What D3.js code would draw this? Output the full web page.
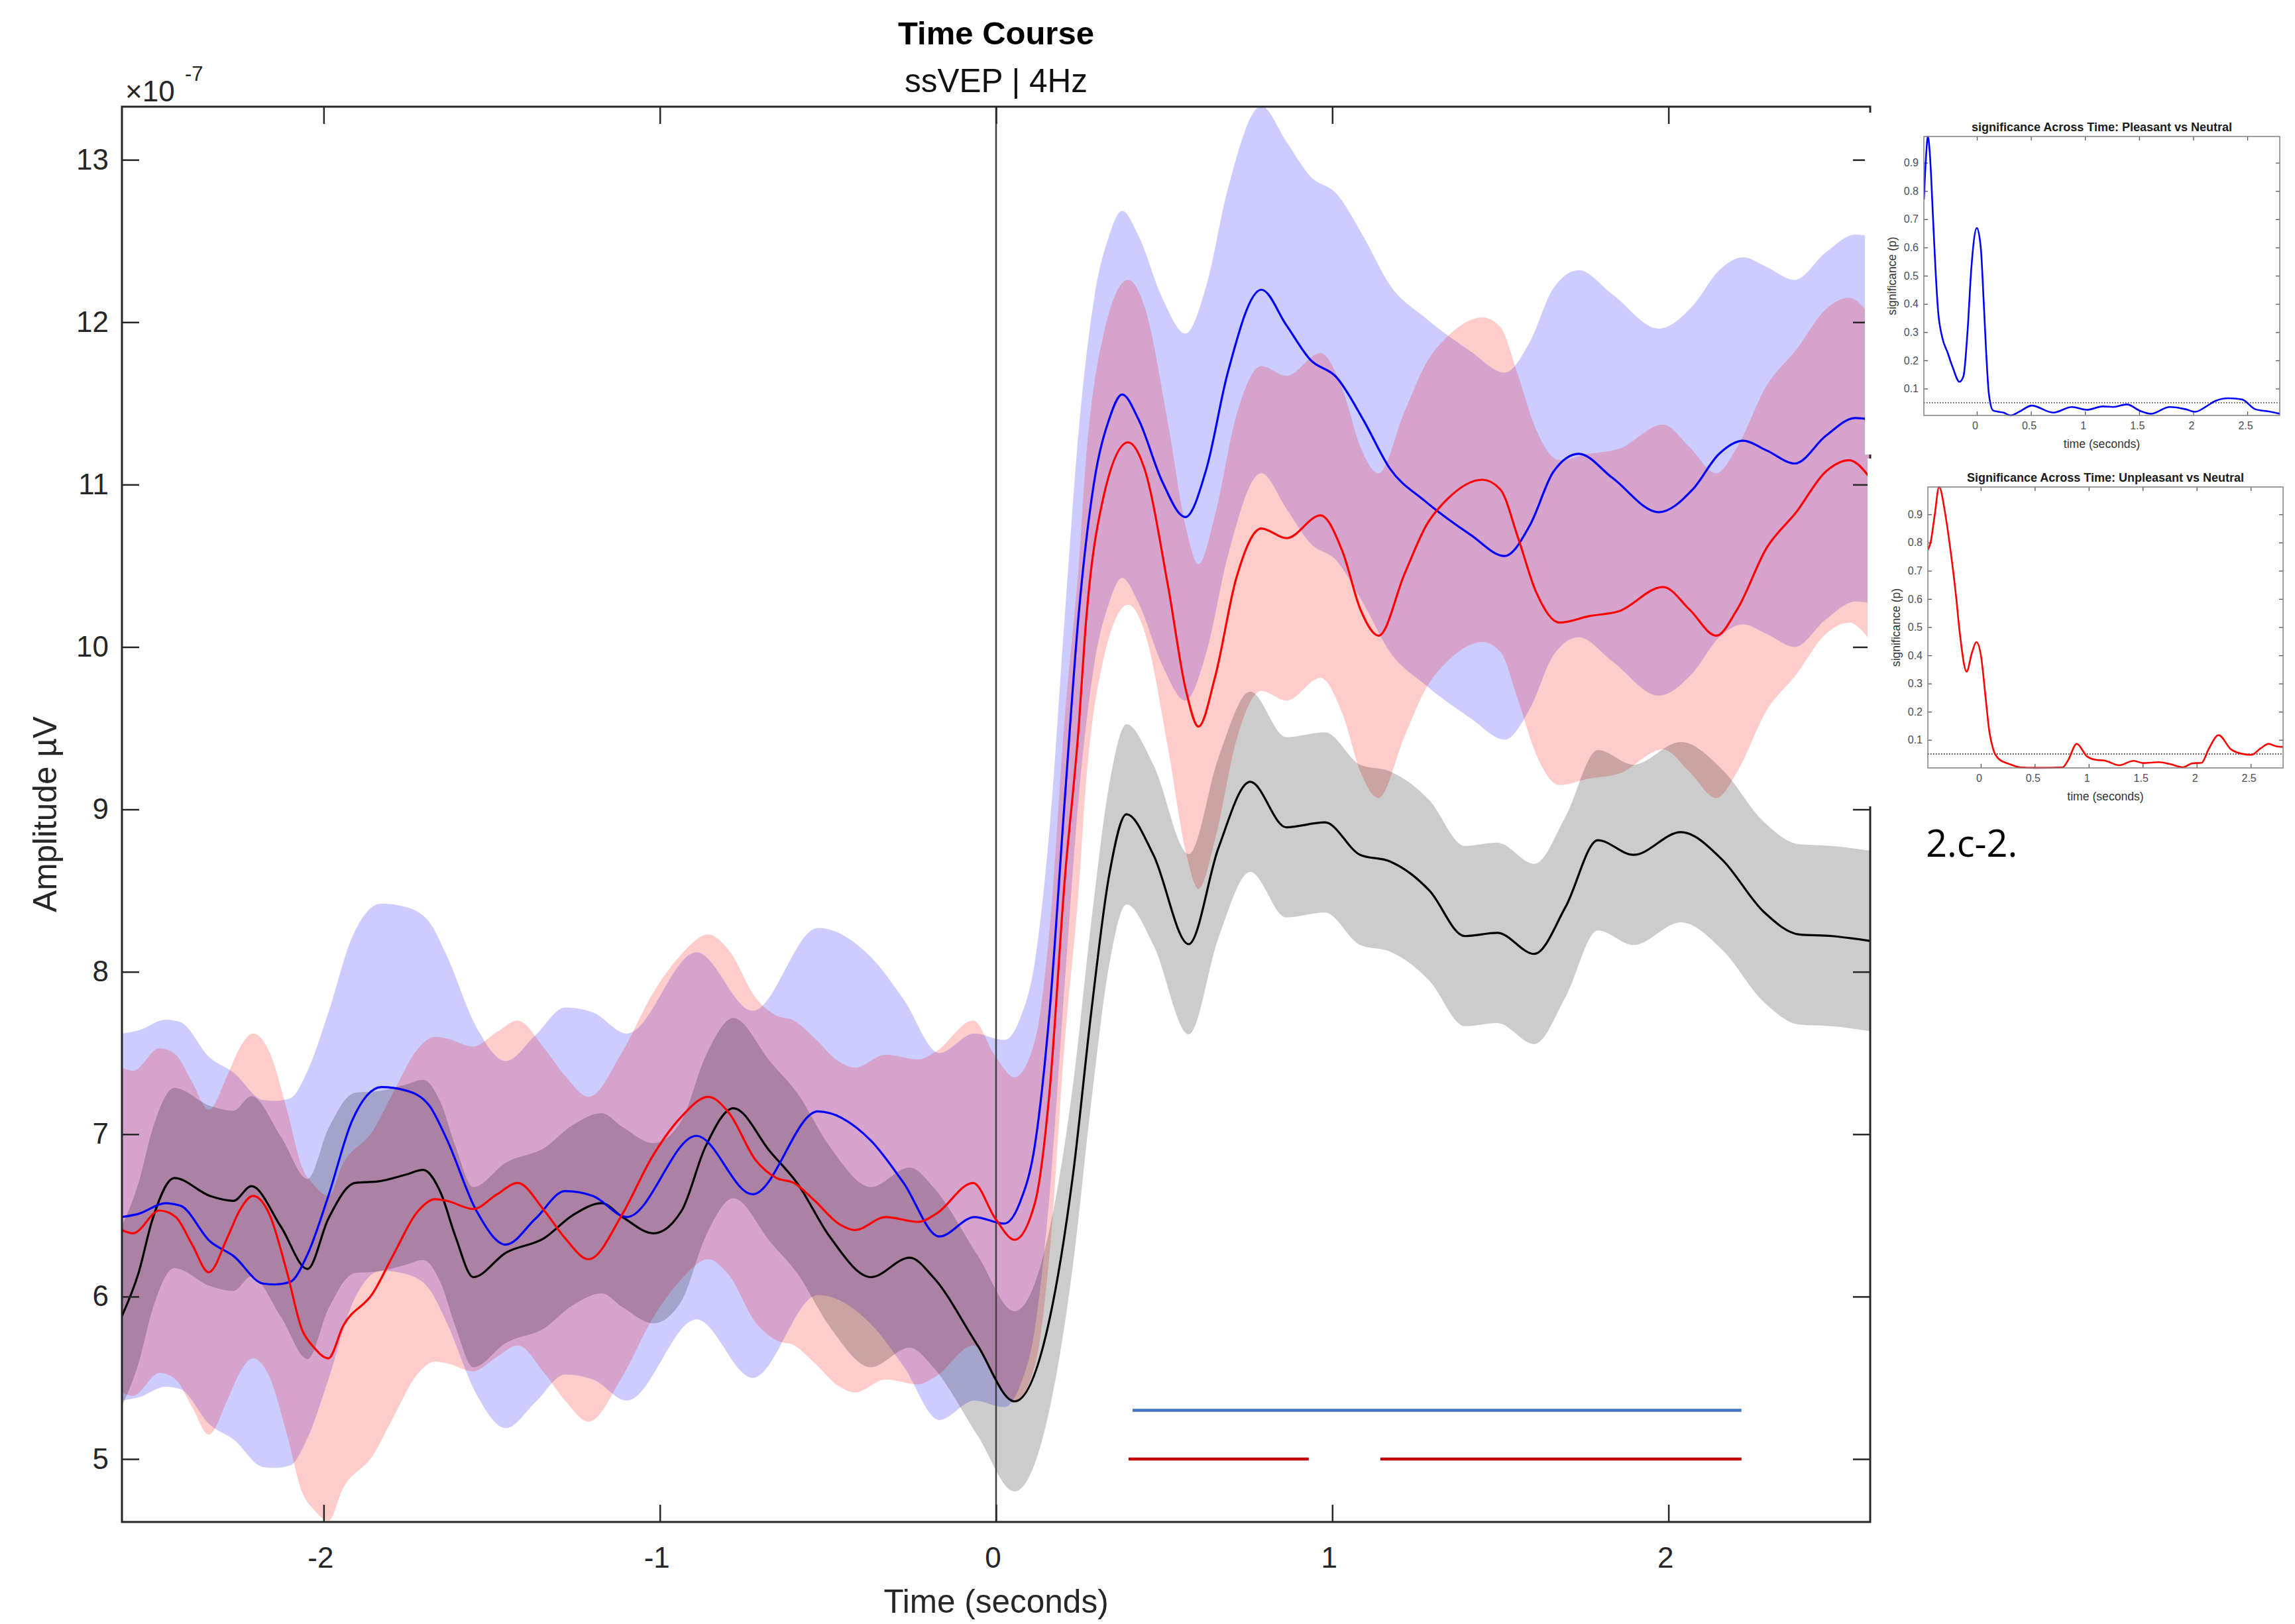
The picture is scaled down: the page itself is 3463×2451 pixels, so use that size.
<!DOCTYPE html>
<html>
<head>
<meta charset="utf-8">
<script src="https://cdn.jsdelivr.net/npm/d3@7"></script>
<style>
  html, body { margin: 0; padding: 0; background: #fff; }
  svg { display: block; font-family: "Liberation Sans", Arial, Helvetica, sans-serif; }
</style>
</head>
<body>
<svg id="chart" width="3463" height="2451"></svg>
<script>
// ---- data (amplitudes are in units of 1e-7, as on the axis) ----
const timeTicks = [-2, -1, 0, 1, 2];
const ampTicks = [5, 6, 7, 8, 9, 10, 11, 12, 13];

// [time (s), amplitude]
const neutralMean = [
  [-2.60, 5.88], [-2.55, 6.15], [-2.51, 6.47], [-2.444, 6.73], [-2.338, 6.62],
  [-2.268, 6.59], [-2.215, 6.68], [-2.127, 6.43], [-2.048, 6.17], [-1.986, 6.48],
  [-1.907, 6.70], [-1.836, 6.71], [-1.757, 6.75], [-1.704, 6.78], [-1.652, 6.64],
  [-1.608, 6.37], [-1.555, 6.12], [-1.458, 6.27], [-1.344, 6.36], [-1.26, 6.50],
  [-1.173, 6.575], [-1.111, 6.49], [-1.019, 6.39], [-0.935, 6.53], [-0.865, 6.92],
  [-0.781, 7.16], [-0.671, 6.89], [-0.592, 6.70], [-0.495, 6.37], [-0.372, 6.12],
  [-0.257, 6.24], [-0.187, 6.12], [-0.055, 5.70], [0.055, 5.355], [0.159, 5.86],
  [0.230, 6.77], [0.283, 7.75], [0.336, 8.59], [0.388, 8.97], [0.468, 8.72],
  [0.573, 8.17], [0.661, 8.76], [0.756, 9.17], [0.863, 8.89], [0.978, 8.92],
  [1.083, 8.72], [1.171, 8.68], [1.236, 8.60], [1.289, 8.50], [1.394, 8.22],
  [1.491, 8.24], [1.601, 8.11], [1.694, 8.40], [1.790, 8.81], [1.896, 8.72],
  [2.037, 8.86], [2.160, 8.69], [2.283, 8.37], [2.389, 8.23], [2.486, 8.22],
  [2.60, 8.19]
];

const pleasantMean = [
  [-2.60, 6.49], [-2.55, 6.51], [-2.47, 6.575], [-2.426, 6.56], [-2.338, 6.34],
  [-2.268, 6.25], [-2.18, 6.08], [-2.144, 6.075], [-2.10, 6.09], [-2.048, 6.26],
  [-1.986, 6.62], [-1.916, 7.08], [-1.828, 7.29], [-1.757, 7.27], [-1.687, 7.18],
  [-1.634, 6.97], [-1.546, 6.53], [-1.458, 6.32], [-1.370, 6.48], [-1.282, 6.65],
  [-1.199, 6.62], [-1.098, 6.49], [-0.891, 6.99], [-0.724, 6.63], [-0.530, 7.14],
  [-0.372, 6.96], [-0.275, 6.70], [-0.169, 6.37], [-0.064, 6.49], [0.024, 6.45],
  [0.071, 6.58], [0.116, 6.94], [0.159, 7.75], [0.204, 9.05], [0.247, 10.23],
  [0.292, 11.02], [0.336, 11.40], [0.375, 11.555], [0.424, 11.40], [0.494, 11.02],
  [0.563, 10.80], [0.626, 11.10], [0.688, 11.68], [0.789, 12.20], [0.864, 11.98],
  [0.934, 11.77], [1.013, 11.66], [1.092, 11.40], [1.171, 11.10], [1.275, 10.90],
  [1.412, 10.69], [1.513, 10.56], [1.588, 10.75], [1.658, 11.08], [1.733, 11.19],
  [1.834, 11.04], [1.971, 10.83], [2.072, 10.97], [2.151, 11.19], [2.222, 11.27],
  [2.292, 11.21], [2.376, 11.13], [2.468, 11.30], [2.556, 11.41], [2.60, 11.40]
];

const unpleasantMean = [
  [-2.60, 6.41], [-2.567, 6.39], [-2.488, 6.53], [-2.44, 6.49], [-2.391, 6.32],
  [-2.342, 6.15], [-2.285, 6.37], [-2.250, 6.53], [-2.210, 6.62], [-2.162, 6.51],
  [-2.109, 6.15], [-2.065, 5.80], [-2.030, 5.69], [-1.986, 5.62], [-1.942, 5.82],
  [-1.854, 6.02], [-1.792, 6.26], [-1.722, 6.52], [-1.669, 6.60], [-1.634, 6.59],
  [-1.555, 6.54], [-1.484, 6.63], [-1.423, 6.70], [-1.344, 6.53], [-1.282, 6.36],
  [-1.212, 6.23], [-1.111, 6.51], [-1.023, 6.86], [-0.935, 7.11], [-0.856, 7.23],
  [-0.794, 7.13], [-0.715, 6.84], [-0.653, 6.73], [-0.601, 6.70], [-0.539, 6.59],
  [-0.469, 6.45], [-0.420, 6.41], [-0.328, 6.49], [-0.231, 6.46], [-0.178, 6.51],
  [-0.068, 6.70], [-0.002, 6.48], [0.055, 6.35], [0.116, 6.58], [0.159, 7.26],
  [0.204, 8.56], [0.247, 9.54], [0.265, 10.09], [0.318, 10.91], [0.393, 11.26],
  [0.441, 11.10], [0.512, 10.37], [0.564, 9.74], [0.602, 9.51], [0.652, 9.82],
  [0.714, 10.42], [0.789, 10.73], [0.864, 10.67], [0.965, 10.81], [1.031, 10.585],
  [1.084, 10.23], [1.138, 10.07], [1.215, 10.45], [1.280, 10.75], [1.342, 10.91],
  [1.447, 11.03], [1.500, 10.97], [1.553, 10.67], [1.606, 10.34], [1.676, 10.15],
  [1.764, 10.19], [1.852, 10.22], [1.984, 10.37], [2.063, 10.23], [2.142, 10.07],
  [2.204, 10.23], [2.292, 10.61], [2.380, 10.83], [2.468, 11.08], [2.537, 11.15],
  [2.60, 11.04]
];

// half-width of the shaded error band of each condition
const conditionNames = ["pleasant", "unpleasant", "neutral"];
const bandHalfWidth = [1.13, 1.00, 0.555];

// significant windows (start, end in s) and the level they are drawn at
const pleasantSigSpans = [[0.406, 2.217]];
const unpleasantSigSpans = [[0.394, 0.930], [1.143, 2.217]];
const sigLevels = [5.30, 5.00];

// inset p-value curves: [time (s), p]
const insetTimeTicks = [0, 0.5, 1, 1.5, 2, 2.5];
const insetPTicks = [0.1, 0.2, 0.3, 0.4, 0.5, 0.6, 0.7, 0.8, 0.9];
const alphaLevel = 0.05;

const pleasantP = [
  [-0.49, 0.77], [-0.47, 0.922], [-0.453, 0.993], [-0.433, 0.922], [-0.408, 0.727],
  [-0.384, 0.533], [-0.359, 0.377], [-0.322, 0.284], [-0.272, 0.229], [-0.223, 0.175],
  [-0.161, 0.124], [-0.124, 0.144], [-0.087, 0.299], [-0.050, 0.533], [0.0, 0.669],
  [0.037, 0.595], [0.062, 0.416], [0.087, 0.221], [0.111, 0.081], [0.149, 0.023],
  [0.198, 0.018], [0.248, 0.015], [0.309, 0.005], [0.396, 0.019], [0.507, 0.040],
  [0.705, 0.015], [0.879, 0.035], [1.015, 0.025], [1.163, 0.037], [1.262, 0.035],
  [1.386, 0.044], [1.510, 0.021], [1.609, 0.011], [1.782, 0.035], [1.931, 0.027],
  [2.017, 0.018], [2.129, 0.039], [2.203, 0.056], [2.327, 0.066], [2.450, 0.062],
  [2.574, 0.027], [2.698, 0.019], [2.80, 0.011]
];

const unpleasantP = [
  [-0.49, 0.774], [-0.465, 0.80], [-0.428, 0.893], [-0.386, 0.997], [-0.329, 0.902],
  [-0.280, 0.772], [-0.230, 0.614], [-0.193, 0.475], [-0.131, 0.342], [-0.082, 0.409],
  [-0.040, 0.447], [0.005, 0.391], [0.042, 0.261], [0.079, 0.131], [0.116, 0.066],
  [0.166, 0.033], [0.265, 0.0145], [0.364, 0.003], [0.512, 0.001], [0.760, 0.003],
  [0.809, 0.028], [0.889, 0.086], [0.983, 0.042], [1.057, 0.030], [1.156, 0.026],
  [1.280, 0.010], [1.416, 0.026], [1.502, 0.018], [1.651, 0.021], [1.750, 0.0145],
  [1.874, 0.003], [1.960, 0.017], [2.047, 0.019], [2.109, 0.066], [2.203, 0.117],
  [2.319, 0.066], [2.443, 0.049], [2.505, 0.047], [2.592, 0.070], [2.666, 0.086],
  [2.740, 0.077], [2.80, 0.075]
];

// ---- main chart ----
const svg = d3.select("#chart");
const plotLeft = 184, plotRight = 2822, plotTop = 161, plotBottom = 2297;

const x = d3.scaleLinear().domain([-2.6, 2.6]).range([plotLeft, plotRight]);
const y = d3.scaleLinear().domain([4.6124, 13.327]).range([plotBottom, plotTop]);

svg.append("defs").append("clipPath")
    .attr("id", "plotClip")
  .append("rect")
    .attr("x", plotLeft).attr("y", plotTop)
    .attr("width", plotRight - plotLeft).attr("height", plotBottom - plotTop);

const plot = svg.append("g").attr("clip-path", "url(#plotClip)");

const series = [pleasantMean, unpleasantMean, neutralMean];
const lineColors = ["#0000ff", "#ff0000", "#000000"];

series.forEach((data, i) => {
    const hw = bandHalfWidth[i];
    const band = d3.area()
        .x(d => x(d[0]))
        .y0(d => y(d[1] - hw))
        .y1(d => y(d[1] + hw))
        .curve(d3.curveMonotoneX);
    plot.append("path")
        .attr("class", "band " + conditionNames[i])
        .attr("d", band(data))
        .attr("fill", lineColors[i])
        .attr("fill-opacity", 0.2)
        .attr("stroke", "none");
});

// stimulus onset
plot.append("line")
    .attr("x1", x(0)).attr("x2", x(0))
    .attr("y1", plotTop).attr("y2", plotBottom)
    .attr("stroke", "#404040")
    .attr("stroke-width", 2.5);

const meanLine = d3.line()
    .x(d => x(d[0]))
    .y(d => y(d[1]))
    .curve(d3.curveMonotoneX);

[2, 0, 1].forEach(i => {
    plot.append("path")
        .attr("d", meanLine(series[i]))
        .attr("fill", "none")
        .attr("stroke", lineColors[i])
        .attr("stroke-width", 3.2);
});

// significance bars
const sigColors = ["#4472c4", "#c00000"];
[pleasantSigSpans, unpleasantSigSpans].forEach((spans, i) => {
    spans.forEach(s => {
        svg.append("line")
            .attr("x1", x(s[0])).attr("x2", x(s[1]))
            .attr("y1", y(sigLevels[i])).attr("y2", y(sigLevels[i]))
            .attr("stroke", sigColors[i])
            .attr("stroke-width", 4.5);
    });
});

// axes (ticks point inward, box on)
function styleAxis(g, fontSize) {
    g.select(".domain").remove();
    g.selectAll(".tick line").attr("stroke", "#262626").attr("stroke-width", 2.5);
    g.selectAll(".tick text")
        .attr("fill", "#262626")
        .attr("font-size", fontSize)
        .attr("font-family", "Liberation Sans, Arial, sans-serif");
}

const fmt = d => String(d).replace("\u2212", "-");

svg.append("g")
    .attr("transform", `translate(0,${plotBottom})`)
    .call(d3.axisBottom(x).tickValues(timeTicks).tickSize(-26).tickPadding(38).tickFormat(fmt))
    .call(g => styleAxis(g, 44))
    .call(g => g.selectAll(".tick text").attr("dx", -5));

svg.append("g")
    .attr("transform", `translate(0,${plotTop})`)
    .call(d3.axisTop(x).tickValues(timeTicks).tickSize(-26).tickFormat(""))
    .call(g => styleAxis(g, 44));

svg.append("g")
    .attr("transform", `translate(${plotLeft},0)`)
    .call(d3.axisLeft(y).tickValues(ampTicks).tickSize(-26).tickPadding(20).tickFormat(fmt))
    .call(g => styleAxis(g, 44));

svg.append("g")
    .attr("transform", `translate(${plotRight},0)`)
    .call(d3.axisRight(y).tickValues(ampTicks).tickSize(-26).tickFormat(""))
    .call(g => styleAxis(g, 44));

svg.append("rect")
    .attr("x", plotLeft).attr("y", plotTop)
    .attr("width", plotRight - plotLeft).attr("height", plotBottom - plotTop)
    .attr("fill", "none")
    .attr("stroke", "#262626")
    .attr("stroke-width", 3);

// exponent
svg.append("text")
    .attr("x", 189).attr("y", 153)
    .attr("font-size", 44).attr("fill", "#262626")
    .text("\u00d710");
svg.append("text")
    .attr("x", 279).attr("y", 122)
    .attr("font-size", 31).attr("fill", "#262626")
    .text("-7");

// titles and labels
svg.append("text")
    .attr("x", (plotLeft + plotRight) / 2).attr("y", 67)
    .attr("text-anchor", "middle")
    .attr("font-size", 49).attr("font-weight", "bold")
    .text("Time Course");

svg.append("text")
    .attr("x", (plotLeft + plotRight) / 2).attr("y", 139)
    .attr("text-anchor", "middle")
    .attr("font-size", 49.5).attr("fill", "#111")
    .text("ssVEP | 4Hz");

svg.append("text")
    .attr("x", (plotLeft + plotRight) / 2).attr("y", 2434)
    .attr("text-anchor", "middle")
    .attr("font-size", 49.5).attr("fill", "#262626")
    .text("Time (seconds)");

svg.append("text")
    .attr("transform", `translate(85,${(plotTop + plotBottom) / 2}) rotate(-90)`)
    .attr("text-anchor", "middle")
    .attr("font-size", 49.5).attr("fill", "#262626")
    .text("Amplitude \u00b5V");

// ---- inset figures (pasted on top of the right edge) ----
svg.append("rect").attr("x", 2814).attr("y", 170).attr("width", 649).attr("height", 516).attr("fill", "#fff");
svg.append("rect").attr("x", 2818).attr("y", 692).attr("width", 645).attr("height", 525).attr("fill", "#fff");

function drawInset(box, data, color, title, yDomain, clipId) {
    const xi = d3.scaleLinear().domain([-0.49, 2.8]).range([box.x0, box.x1]);
    const yi = d3.scaleLinear().domain(yDomain).range([box.y1, box.y0]);
    const g = svg.append("g");

    g.append("clipPath").attr("id", clipId)
      .append("rect")
        .attr("x", box.x0).attr("y", box.y0 - 2)
        .attr("width", box.x1 - box.x0).attr("height", box.y1 - box.y0 + 4);

    function styleInset(a) {
        a.select(".domain").remove();
        a.selectAll(".tick line").attr("stroke", "#555").attr("stroke-width", 1.3);
        a.selectAll(".tick text")
            .attr("fill", "#4d4d4d")
            .attr("font-size", 16)
            .attr("font-family", "Liberation Sans, Arial, sans-serif");
    }

    g.append("g").attr("transform", `translate(0,${box.y1})`)
        .call(d3.axisBottom(xi).tickValues(insetTimeTicks).tickSize(-6).tickPadding(10).tickFormat(d => String(d)))
        .call(styleInset)
        .call(a => a.selectAll(".tick text").attr("dx", -3));
    g.append("g").attr("transform", `translate(0,${box.y0})`)
        .call(d3.axisTop(xi).tickValues(insetTimeTicks).tickSize(-6).tickFormat(""))
        .call(styleInset);
    g.append("g").attr("transform", `translate(${box.x0},0)`)
        .call(d3.axisLeft(yi).tickValues(insetPTicks).tickSize(-6).tickPadding(8).tickFormat(d => String(d)))
        .call(styleInset);
    g.append("g").attr("transform", `translate(${box.x1},0)`)
        .call(d3.axisRight(yi).tickValues(insetPTicks).tickSize(-6).tickFormat(""))
        .call(styleInset);

    g.append("line")
        .attr("x1", box.x0).attr("x2", box.x1)
        .attr("y1", yi(alphaLevel)).attr("y2", yi(alphaLevel))
        .attr("stroke", "#000").attr("stroke-width", 1.3)
        .attr("stroke-dasharray", "1.5,2.5");

    g.append("path")
        .attr("clip-path", `url(#${clipId})`)
        .attr("d", d3.line().x(d => xi(d[0])).y(d => yi(d[1])).curve(d3.curveMonotoneX)(data))
        .attr("fill", "none")
        .attr("stroke", color)
        .attr("stroke-width", 2.6);

    g.append("rect")
        .attr("x", box.x0).attr("y", box.y0)
        .attr("width", box.x1 - box.x0).attr("height", box.y1 - box.y0)
        .attr("fill", "none").attr("stroke", "#808080").attr("stroke-width", 1.5);

    const cx = (box.x0 + box.x1) / 2;
    g.append("text")
        .attr("x", cx).attr("y", box.y0 - 8)
        .attr("text-anchor", "middle")
        .attr("font-size", 18).attr("font-weight", "bold").attr("fill", "#1a1a1a")
        .text(title);
    g.append("text")
        .attr("x", cx).attr("y", box.y1 + 49)
        .attr("text-anchor", "middle")
        .attr("font-size", 17.6).attr("fill", "#333")
        .text("time (seconds)");
    g.append("text")
        .attr("transform", `translate(${box.x0 - 42},${(box.y0 + box.y1) / 2}) rotate(-90)`)
        .attr("text-anchor", "middle")
        .attr("font-size", 17.6).attr("fill", "#333")
        .text("significance (p)");
}

drawInset({ x0: 2903, x1: 3440, y0: 206, y1: 627 }, pleasantP, "#0000ff",
    "significance Across Time: Pleasant vs Neutral", [0.005, 0.993], "insetClip1");
drawInset({ x0: 2909, x1: 3445, y0: 735, y1: 1159 }, unpleasantP, "#ff0000",
    "Significance Across Time: Unpleasant vs Neutral", [0.0006, 0.997], "insetClip2");

svg.append("text")
    .attr("x", 2906).attr("y", 1293)
    .attr("font-family", "Open Sans, Lato, sans-serif")
    .attr("font-size", 56)
    .text("2.c-2.");
</script>
</body>
</html>
